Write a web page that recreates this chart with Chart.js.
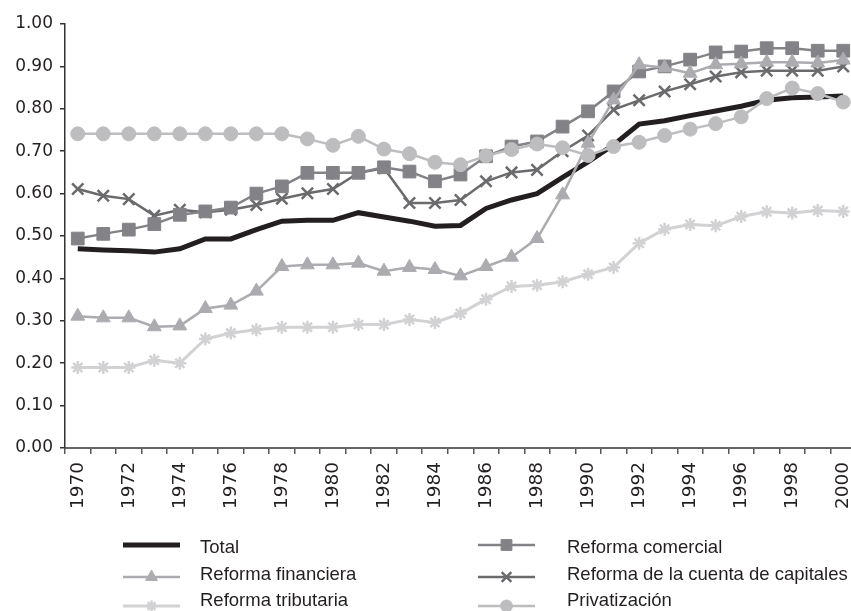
<!DOCTYPE html>
<html>
<head>
<meta charset="utf-8">
<script src="https://cdn.jsdelivr.net/npm/chart.js@4/dist/chart.umd.min.js"></script>
<style>
  html, body { margin: 0; padding: 0; overflow: hidden; background: #ffffff; }
  #wrap { position: absolute; left: 0; top: 0; width: 857px; height: 611px; }
</style>
</head>
<body>
<div id="wrap"><canvas id="c" width="857" height="611"></canvas></div>
<script>
const years = ['1970','1971','1972','1973','1974','1975','1976','1977','1978','1979',
               '1980','1981','1982','1983','1984','1985','1986','1987','1988','1989',
               '1990','1991','1992','1993','1994','1995','1996','1997','1998','1999','2000'];

const total = [0.470,0.467,0.465,0.462,0.470,0.493,0.493,0.515,0.535,0.537,
               0.537,0.555,0.545,0.535,0.523,0.525,0.565,0.585,0.600,0.638,
               0.675,0.715,0.764,0.772,0.784,0.795,0.806,0.820,0.826,0.828,0.830];

const comercial = [0.494,0.505,0.515,0.528,0.550,0.558,0.567,0.600,0.617,0.649,
                   0.649,0.649,0.662,0.652,0.629,0.645,0.688,0.711,0.723,0.758,
                   0.794,0.841,0.888,0.900,0.916,0.933,0.935,0.943,0.943,0.937,0.937];

const financiera = [0.311,0.307,0.307,0.286,0.288,0.329,0.337,0.370,0.428,0.432,
                    0.432,0.436,0.417,0.426,0.421,0.406,0.428,0.450,0.494,0.597,
                    0.719,0.821,0.904,0.897,0.884,0.904,0.906,0.910,0.910,0.908,0.915];

const capitales = [0.611,0.595,0.587,0.548,0.562,0.556,0.562,0.573,0.588,0.601,
                   0.611,0.649,0.660,0.578,0.578,0.585,0.629,0.650,0.656,0.700,
                   0.737,0.798,0.820,0.841,0.858,0.876,0.886,0.890,0.890,0.890,0.900];

const tributaria = [0.190,0.190,0.190,0.207,0.200,0.257,0.271,0.279,0.285,0.285,
                    0.285,0.291,0.291,0.303,0.296,0.317,0.351,0.381,0.384,0.392,
                    0.410,0.426,0.483,0.516,0.527,0.524,0.546,0.557,0.554,0.560,0.558];

const privatizacion = [0.741,0.741,0.741,0.741,0.741,0.741,0.741,0.741,0.741,0.729,
                       0.714,0.735,0.705,0.694,0.674,0.668,0.689,0.704,0.717,0.708,
                       0.690,0.711,0.721,0.737,0.752,0.765,0.781,0.824,0.849,0.836,0.816];

const seriesNames = ['Total','Reforma comercial','Reforma financiera',
                     'Reforma de la cuenta de capitales','Reforma tributaria','Privatización'];

const C_TOTAL = '#231f20', C_COM = '#838387', C_FIN = '#acacb0',
      C_CAP = '#6b6b6e', C_TRIB = '#d2d2d4', C_PRIV = '#bdbdc0';

function ds(label, data, color, style, radius, lw, pbw, order) {
  return {
    label, data, order,
    borderColor: color, backgroundColor: color,
    borderWidth: lw, tension: 0,
    pointStyle: style, pointRadius: radius, pointHoverRadius: radius,
    pointBackgroundColor: color, pointBorderColor: color, pointBorderWidth: pbw
  };
}

const datasets = [
  ds(seriesNames[0], total, C_TOTAL, false, 0, 5, 0, 2),
  ds(seriesNames[1], comercial, C_COM, 'rect', 9, 2.5, 1, 3),
  ds(seriesNames[2], financiera, C_FIN, 'triangle', 8, 2.5, 1, 1),
  ds(seriesNames[3], capitales, C_CAP, 'crossRot', 8, 2.5, 2.5, 4),
  ds(seriesNames[4], tributaria, C_TRIB, 'star', 6.5, 3, 2.5, 5),
  ds(seriesNames[5], privatizacion, C_PRIV, 'circle', 7, 2.5, 1, 0)
];

const legendItems = [
  { i: 0, col: 0, row: 0 }, { i: 2, col: 0, row: 1 }, { i: 4, col: 0, row: 2 },
  { i: 1, col: 1, row: 0 }, { i: 3, col: 1, row: 1 }, { i: 5, col: 1, row: 2 }
];

const legendPlugin = {
  id: 'customLegend',
  afterDraw(chart) {
    const ctx = chart.ctx;
    const colSample = [123, 478];
    const colText = [200, 567];
    const rowText = [548, 575, 601];
    const rowLine = [545, 577, 606];
    const sampleW = 57;
    ctx.save();
    legendItems.forEach(it => {
      const d = chart.data.datasets[it.i];
      const x0 = colSample[it.col], y = rowLine[it.row];
      ctx.strokeStyle = d.borderColor;
      ctx.fillStyle = d.borderColor;
      ctx.lineWidth = d.borderWidth;
      ctx.beginPath();
      ctx.moveTo(x0, y);
      ctx.lineTo(x0 + sampleW, y);
      ctx.stroke();
      if (d.pointStyle) {
        ctx.lineWidth = d.pointBorderWidth;
        Chart.helpers.drawPoint(ctx, {
          pointStyle: d.pointStyle, radius: d.pointRadius * 0.85,
          rotation: 0, borderWidth: d.pointBorderWidth
        }, x0 + sampleW / 2, y);
      }
      ctx.fillStyle = '#231f20';
      ctx.font = '18.5px "Liberation Sans", Arial, sans-serif';
      ctx.textBaseline = 'middle';
      ctx.textAlign = 'left';
      ctx.fillText(d.label, colText[it.col], rowText[it.row]);
    });
    ctx.restore();
  }
};

new Chart(document.getElementById('c'), {
  type: 'line',
  data: { labels: years, datasets },
  options: {
    responsive: false,
    animation: false,
    events: [],
    layout: { autoPadding: false, padding: { left: 0, right: 1, top: 24, bottom: 91 } },
    plugins: { legend: { display: false }, tooltip: { enabled: false }, title: { display: false } },
    scales: {
      x: {
        type: 'category',
        offset: true,
        grid: { display: true, offset: true, drawOnChartArea: false, drawTicks: true,
                tickLength: 6, color: '#555555', lineWidth: 1.5 },
        border: { display: true, color: '#666666', width: 2 },
        ticks: {
          autoSkip: false, maxRotation: 90, minRotation: 90, padding: 8,
          color: '#231f20',
          font: { family: '"DejaVu Sans", sans-serif', size: 18.5 },
          callback: function (val, idx) { return idx % 2 === 0 ? years[idx] : ''; }
        },
        afterFit(scale) { scale.height = 72; scale.paddingRight = 0; scale.paddingLeft = 0; }
      },
      y: {
        min: 0, max: 1,
        grid: { display: true, drawOnChartArea: false, drawTicks: true,
                tickLength: 5, color: '#333333', lineWidth: 1.5 },
        border: { display: true, color: '#333333', width: 1.5 },
        ticks: {
          stepSize: 0.1, padding: 7, color: '#231f20',
          font: { family: '"DejaVu Sans", sans-serif', size: 17 },
          callback: v => Number(v).toFixed(2)
        },
        afterFit(scale) { scale.width = 65; }
      }
    }
  },
  plugins: [legendPlugin]
});
</script>
</body>
</html>
